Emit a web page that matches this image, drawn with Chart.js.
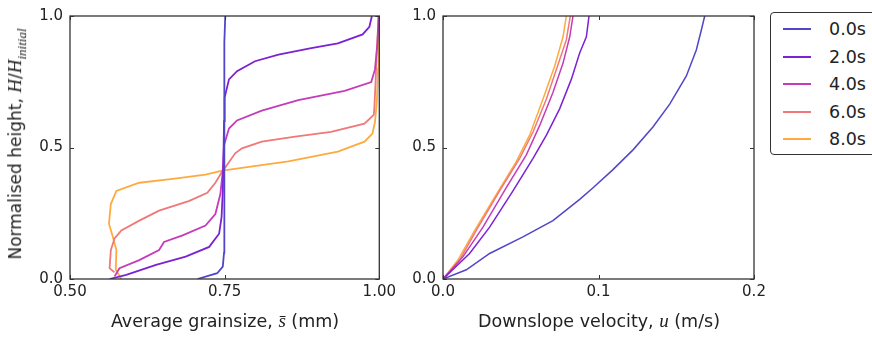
<!DOCTYPE html>
<html>
<head>
<meta charset="UTF-8">
<title>Grainsize and velocity profiles</title>
<script src="https://cdn.jsdelivr.net/npm/chart.js"></script>
<style>
    body { margin: 0; width: 872px; height: 337px; overflow: hidden; background: #fff; position: relative; font-family: "DejaVu Sans", sans-serif; color: #222; }
    .box { position: absolute; top: 0; height: 337px; }
    .xtitle { position: absolute; font-size: 17.5px; white-space: nowrap; transform: translateX(-50%); top: 310px; }
    .ytitle { position: absolute; font-size: 17px; white-space: nowrap; left: 17px; top: 144px; transform: translate(-50%, -50%) rotate(-90deg); }
    .m { font-family: "Liberation Serif", serif; font-style: italic; font-size: 19px; }
    .legend { position: absolute; left: 770px; top: 12px; width: 120px; height: 141px; border: 1.5px solid #333; border-radius: 4px; }
    .row { position: absolute; left: 0; height: 20px; }
    .row span.l { position: absolute; left: 12px; top: 9px; width: 28px; height: 2px; }
    .row span.t { position: absolute; left: 58px; top: 0; font-size: 17.5px; line-height: 20px; }
</style>
</head>
<body>
<div class="box" style="left:0;width:400px"><canvas id="grainChart"></canvas></div>
<div class="box" style="left:400px;width:370px"><canvas id="velChart"></canvas></div>
<div class="ytitle">Normalised height, <span class="m">H</span>/<span class="m">H<sub style="font-size:13px">initial</sub></span></div>
<div class="xtitle" style="left:225px">Average grainsize, <span class="m">s̄</span> (mm)</div>
<div class="xtitle" style="left:599px">Downslope velocity, <span class="m">u</span> (m/s)</div>
<div class="legend" id="legend"></div>
<script>
    // series labels
    const times = ['0.0s', '2.0s', '4.0s', '6.0s', '8.0s'];

    // average grainsize profiles [s, H/Hinitial]
    const grain0 = [[0.706,0],[0.738,0.022],[0.747,0.047],[0.749,0.1],[0.749,0.5],[0.750,0.9],[0.751,1.0]];
    const grain2 = [[0.564,0],[0.591,0.016],[0.639,0.054],[0.687,0.085],[0.725,0.122],[0.741,0.172],[0.745,0.235],[0.747,0.335],[0.748,0.45],[0.749,0.6],[0.750,0.69],[0.757,0.759],[0.770,0.790],[0.799,0.828],[0.837,0.853],[0.890,0.878],[0.933,0.896],[0.973,0.930],[0.984,0.959],[0.988,1.0]];
    const grain4 = [[0.572,0.01],[0.580,0.041],[0.612,0.072],[0.644,0.110],[0.652,0.141],[0.682,0.166],[0.719,0.203],[0.735,0.247],[0.743,0.322],[0.747,0.409],[0.749,0.509],[0.757,0.572],[0.770,0.603],[0.810,0.640],[0.869,0.680],[0.944,0.715],[0.987,0.749],[0.993,0.797],[0.997,0.896],[0.999,1.0]];
    const grain6 = [[0.572,0.025],[0.564,0.041],[0.566,0.110],[0.572,0.154],[0.583,0.185],[0.612,0.222],[0.644,0.260],[0.693,0.297],[0.722,0.328],[0.735,0.366],[0.746,0.409],[0.751,0.424],[0.767,0.478],[0.778,0.497],[0.810,0.522],[0.864,0.541],[0.922,0.559],[0.976,0.591],[0.991,0.624],[0.992,0.65],[0.994,0.75],[0.996,0.87],[0.999,1.0]];
    const grain8 = [[0.583,0],[0.574,0.035],[0.575,0.110],[0.570,0.154],[0.563,0.210],[0.566,0.285],[0.575,0.335],[0.612,0.366],[0.666,0.381],[0.719,0.397],[0.746,0.412],[0.853,0.447],[0.933,0.484],[0.976,0.522],[0.989,0.553],[0.993,0.597],[0.996,0.672],[0.998,0.8],[0.999,1.0]];

    // downslope velocity profiles [u, H/Hinitial]
    const vel0 = [[0,0],[0.015,0.035],[0.030,0.097],[0.0514,0.160],[0.0707,0.222],[0.0879,0.303],[0.0965,0.347],[0.1093,0.416],[0.1222,0.491],[0.135,0.578],[0.1458,0.665],[0.1565,0.772],[0.1629,0.871],[0.1661,0.946],[0.1683,1.0]];
    const vel2 = [[0,0],[0.0171,0.097],[0.030,0.197],[0.045,0.335],[0.0579,0.459],[0.0665,0.547],[0.075,0.647],[0.0825,0.759],[0.0879,0.859],[0.0922,0.921],[0.0939,1.0]];
    const vel4 = [[0,0],[0.0129,0.085],[0.0257,0.197],[0.0407,0.347],[0.0536,0.472],[0.0622,0.584],[0.0707,0.709],[0.0772,0.821],[0.0815,0.921],[0.0836,1.0]];
    const vel6 = [[0,0],[0.0107,0.072],[0.0214,0.185],[0.0364,0.335],[0.0493,0.459],[0.0579,0.559],[0.0665,0.684],[0.0729,0.797],[0.0793,0.909],[0.0819,1.0]];
    const vel8 = [[0,0],[0.0096,0.072],[0.0204,0.185],[0.0343,0.322],[0.0472,0.447],[0.0557,0.547],[0.0643,0.684],[0.0718,0.809],[0.0772,0.921],[0.0793,1.0]];

    const hTicks = [0, 0.5, 1.0];
    const grainTicks = [0.5, 0.75, 1.0];
    const velTicks = [0, 0.1, 0.2];

    const lineColors = ['#5046c8', '#7b22d3', '#c53cba', '#f07878', '#fdab40'];

    // frame and inward ticks, matplotlib style
    const framePlugin = {
        id: 'frame',
        afterDraw(chart) {
            const { ctx, chartArea: a, scales } = chart;
            ctx.save();
            ctx.strokeStyle = '#333';
            ctx.lineWidth = 1.3;
            ctx.strokeRect(a.left, a.top, a.right - a.left, a.bottom - a.top);
            ctx.lineWidth = 1;
            scales.x.ticks.forEach(t => {
                const px = Math.round(scales.x.getPixelForValue(t.value)) + 0.5;
                ctx.beginPath();
                ctx.moveTo(px, a.bottom); ctx.lineTo(px, a.bottom - 4);
                ctx.moveTo(px, a.top); ctx.lineTo(px, a.top + 4);
                ctx.stroke();
            });
            scales.y.ticks.forEach(t => {
                const py = Math.round(scales.y.getPixelForValue(t.value)) + 0.5;
                ctx.beginPath();
                ctx.moveTo(a.left, py); ctx.lineTo(a.left + 4, py);
                ctx.moveTo(a.right, py); ctx.lineTo(a.right - 4, py);
                ctx.stroke();
            });
            ctx.restore();
        }
    };

    function makeChart(id, series, xTicks, digits, yWidth, rightPad, lw) {
        new Chart(document.getElementById(id), {
            type: 'scatter',
            data: {
                datasets: series.map((s, i) => ({
                    label: times[i],
                    data: s.map(p => ({ x: p[0], y: p[1] })),
                    showLine: true,
                    borderColor: lineColors[i],
                    borderWidth: lw,
                    pointRadius: 0,
                    tension: 0
                }))
            },
            options: {
                responsive: true,
                maintainAspectRatio: false,
                animation: false,
                events: [],
                layout: { padding: { top: 12, right: rightPad, left: 0, bottom: 0 } },
                plugins: { legend: { display: false }, tooltip: { enabled: false } },
                scales: {
                    x: {
                        type: 'linear',
                        min: xTicks[0], max: xTicks[xTicks.length - 1],
                        afterBuildTicks: s => { s.ticks = xTicks.map(v => ({ value: v })); },
                        afterFit: s => { s.height = 58; },
                        grid: { display: false, drawTicks: false },
                        border: { display: false },
                        ticks: { padding: 4, color: '#222', font: { family: 'DejaVu Sans', size: 15 }, maxRotation: 0,
                                 callback: v => v.toFixed(digits) }
                    },
                    y: {
                        min: 0, max: 1,
                        afterBuildTicks: s => { s.ticks = hTicks.map(v => ({ value: v })); },
                        afterFit: s => { s.width = yWidth; },
                        grid: { display: false, drawTicks: false },
                        border: { display: false },
                        ticks: { padding: 7, color: '#222', font: { family: 'DejaVu Sans', size: 15 },
                                 callback: v => v.toFixed(1) }
                    }
                }
            },
            plugins: [framePlugin]
        });
    }

    makeChart('grainChart', [grain0, grain2, grain4, grain6, grain8], grainTicks, 2, 70, 18, 1.8);
    makeChart('velChart', [vel0, vel2, vel4, vel6, vel8], velTicks, 1, 43, 16, 1.5);

    // legend
    const legend = document.getElementById('legend');
    times.forEach((t, i) => {
        const row = document.createElement('div');
        row.className = 'row';
        row.style.top = (6 + i * 27.5) + 'px';
        row.innerHTML = '<span class="l" style="background:' + lineColors[i] + '"></span><span class="t">' + t + '</span>';
        legend.appendChild(row);
    });
</script>
</body>
</html>
